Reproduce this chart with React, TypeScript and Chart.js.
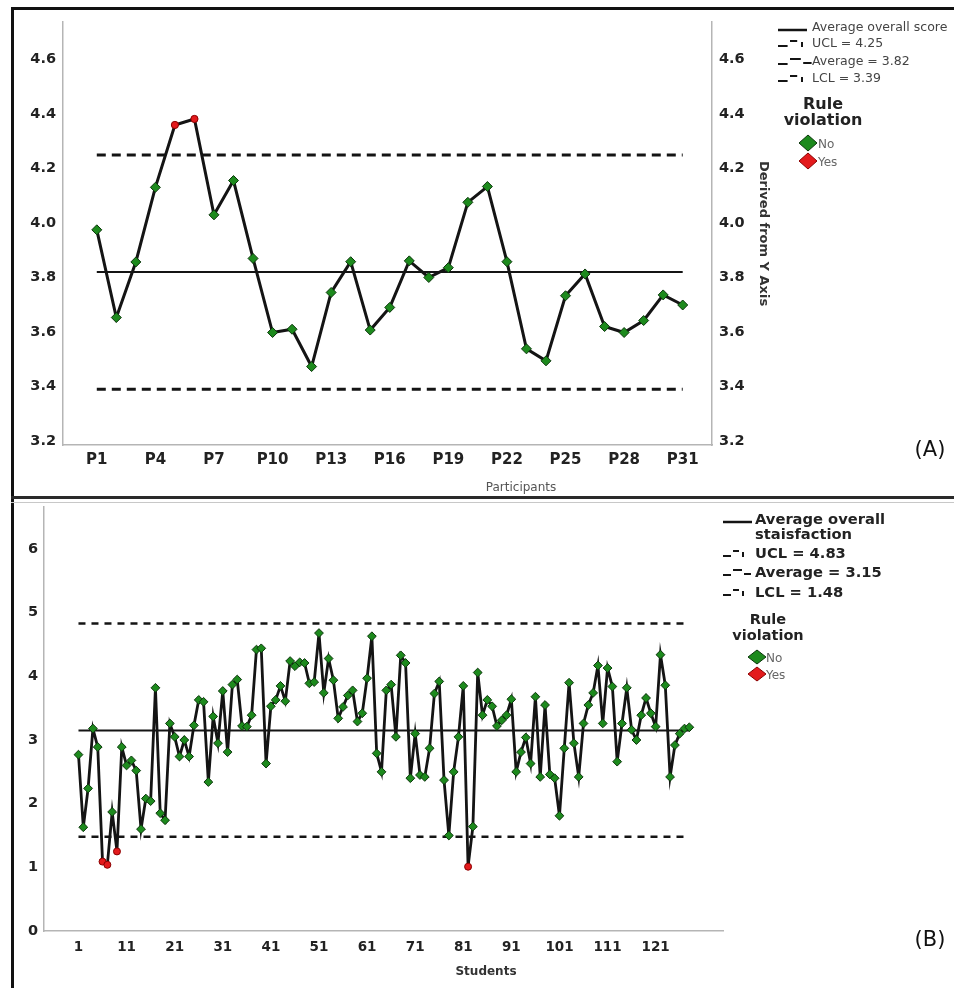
import React, { useEffect, useRef } from "react";
import { Chart, registerables } from "chart.js";

Chart.register(...registerables);

const FONT = "'DejaVu Sans', 'Liberation Sans', Arial, sans-serif";

// ---------------- Panel A data ----------------
const participantScores = [
  3.975, 3.653, 3.857, 4.131, 4.36, 4.382, 4.03, 4.156, 3.87, 3.598,
  3.61, 3.473, 3.745, 3.858, 3.607, 3.69, 3.861, 3.8, 3.836, 4.076,
  4.134, 3.858, 3.538, 3.494, 3.733, 3.813, 3.62, 3.598, 3.642, 3.736,
  3.699,
];
const participantTickValues = [1, 4, 7, 10, 13, 16, 19, 22, 25, 28, 31];
const participantYTicks = [3.2, 3.4, 3.6, 3.8, 4.0, 4.2, 4.4, 4.6];
const participantUCL = 4.25;
const participantAverage = 3.82;
const participantLCL = 3.39;

// ---------------- Panel B data ----------------
const studentScores = [
  2.77, 1.63, 2.24, 3.18, 2.89, 1.09, 1.04, 1.87, 1.25, 2.89,
  2.6, 2.68, 2.52, 1.6, 2.08, 2.04, 3.82, 1.85, 1.74, 3.26,
  3.05, 2.74, 3.0, 2.74, 3.23, 3.63, 3.6, 2.34, 3.37, 2.95,
  3.77, 2.81, 3.87, 3.95, 3.22, 3.21, 3.39, 4.42, 4.44, 2.63,
  3.53, 3.63, 3.85, 3.61, 4.24, 4.16, 4.22, 4.21, 3.89, 3.91,
  4.68, 3.74, 4.28, 3.94, 3.34, 3.52, 3.7, 3.78, 3.29, 3.42,
  3.97, 4.63, 2.79, 2.5, 3.78, 3.87, 3.05, 4.33, 4.21, 2.4,
  3.1, 2.45, 2.42, 2.87, 3.73, 3.92, 2.37, 1.5, 2.5, 3.05,
  3.85, 1.01, 1.64, 4.06, 3.39, 3.63, 3.53, 3.22, 3.31, 3.39,
  3.64, 2.5, 2.81, 3.04, 2.63, 3.68, 2.42, 3.55, 2.46, 2.4,
  1.81, 2.87, 3.9, 2.95, 2.42, 3.26, 3.55, 3.74, 4.17, 3.26,
  4.13, 3.84, 2.66, 3.26, 3.82, 3.16, 3.0, 3.39, 3.66, 3.42,
  3.21, 4.34, 3.86, 2.42, 2.92, 3.1, 3.18, 3.2,
];
const studentTickValues = [1, 11, 21, 31, 41, 51, 61, 71, 81, 91, 101, 111, 121];
const studentYTicks = [0, 1, 2, 3, 4, 5, 6];
const studentUCL = 4.83;
const studentAverage = 3.15;
const studentLCL = 1.48;

// ---------------- styling helpers ----------------
const GREEN = "#1d8a1d";
const GREEN_EDGE = "#0b360b";
const RED = "#e31a1c";
const RED_EDGE = "#8a0000";
const INK = "#141414";

function pointProps(values: number[], ucl: number, lcl: number, rD: number, rC: number) {
  const viol = values.map((v) => v > ucl || v < lcl);
  return {
    pointStyle: viol.map((b) => (b ? "circle" : "rectRot")),
    pointRadius: viol.map((b) => (b ? rC : rD)),
    pointHoverRadius: viol.map((b) => (b ? rC : rD)),
    pointBackgroundColor: viol.map((b) => (b ? RED : GREEN)),
    pointBorderColor: viol.map((b) => (b ? RED_EDGE : GREEN_EDGE)),
    pointBorderWidth: 1,
  };
}

function hLine(y: number, x0: number, x1: number, dash: number[], width: number) {
  return {
    data: [
      { x: x0, y },
      { x: x1, y },
    ],
    borderColor: INK,
    borderWidth: width,
    borderDash: dash,
    pointRadius: 0,
    pointHoverRadius: 0,
    fill: false,
  };
}

function drawDiamond(ctx: CanvasRenderingContext2D, cx: number, cy: number, hw: number, hh: number, fill: string, edge: string) {
  ctx.beginPath();
  ctx.moveTo(cx - hw, cy);
  ctx.lineTo(cx, cy - hh);
  ctx.lineTo(cx + hw, cy);
  ctx.lineTo(cx, cy + hh);
  ctx.closePath();
  ctx.fillStyle = fill;
  ctx.fill();
  ctx.lineWidth = 1;
  ctx.strokeStyle = edge;
  ctx.stroke();
}

function drawLimitMarker(ctx: CanvasRenderingContext2D, x0: number, y: number, s: number, avg: boolean) {
  ctx.save();
  ctx.strokeStyle = INK;
  ctx.lineWidth = 2;
  ctx.lineCap = "butt";
  ctx.beginPath();
  ctx.moveTo(x0, y + 2);
  ctx.lineTo(x0 + 8 * s, y + 2);
  ctx.moveTo(x0 + 10 * s, y - 3);
  ctx.lineTo(x0 + (avg ? 19 : 16) * s, y - 3);
  if (avg) {
    ctx.moveTo(x0 + 21 * s, y + 1);
    ctx.lineTo(x0 + 28 * s, y + 1);
  } else {
    ctx.moveTo(x0 + 20 * s, y - 2);
    ctx.lineTo(x0 + 20 * s, y + 3);
  }
  ctx.stroke();
  ctx.restore();
}

type Entry = { text: string[]; y: number[]; kind: "solid" | "limit" | "avg" };
type LegendSpec = {
  x0: number;
  markerScale: number;
  textX: number;
  entries: Entry[];
  entryFont: string;
  entryColor: string;
  ruleX: number;
  ruleY: number[];
  ruleFont: string;
  diamondX: number;
  diamondY: number[];
  dhw: number;
  dhh: number;
  ynFont: string;
  ynX: number;
  panelLabel: string;
  panelX: number;
  panelY: number;
  axisTitle: string;
  axisTitleFont: string;
  axisTitleColor: string;
  axisTitleX: number;
  axisTitleY: number;
};

function makeLegendPlugin(id: string, spec: LegendSpec) {
  return {
    id,
    afterDraw(chart: any) {
      const ctx: CanvasRenderingContext2D = chart.ctx;
      ctx.save();
      ctx.textBaseline = "middle";
      spec.entries.forEach((e) => {
        const my = e.y[0];
        if (e.kind === "solid") {
          ctx.strokeStyle = INK;
          ctx.lineWidth = 2.5;
          ctx.beginPath();
          ctx.moveTo(spec.x0, my + 2);
          ctx.lineTo(spec.x0 + 29, my + 2);
          ctx.stroke();
        } else {
          drawLimitMarker(ctx, spec.x0, my, spec.markerScale, e.kind === "avg");
        }
        ctx.font = spec.entryFont;
        ctx.fillStyle = spec.entryColor;
        ctx.textAlign = "left";
        e.text.forEach((t, i) => ctx.fillText(t, spec.textX, e.y[i]));
      });
      ctx.font = spec.ruleFont;
      ctx.fillStyle = "#222";
      ctx.textAlign = "center";
      ctx.fillText("Rule", spec.ruleX, spec.ruleY[0]);
      ctx.fillText("violation", spec.ruleX, spec.ruleY[1]);
      drawDiamond(ctx, spec.diamondX, spec.diamondY[0], spec.dhw, spec.dhh, GREEN, GREEN_EDGE);
      drawDiamond(ctx, spec.diamondX, spec.diamondY[1], spec.dhw, spec.dhh, RED, RED_EDGE);
      ctx.font = spec.ynFont;
      ctx.fillStyle = "#666";
      ctx.textAlign = "left";
      ctx.fillText("No", spec.ynX, spec.diamondY[0] + 2);
      ctx.fillText("Yes", spec.ynX, spec.diamondY[1] + 2);
      ctx.font = `21px ${FONT}`;
      ctx.fillStyle = "#111";
      ctx.textAlign = "center";
      ctx.fillText(spec.panelLabel, spec.panelX, spec.panelY);
      ctx.font = spec.axisTitleFont;
      ctx.fillStyle = spec.axisTitleColor;
      ctx.fillText(spec.axisTitle, spec.axisTitleX, spec.axisTitleY);
      ctx.restore();
    },
  };
}

function buildChartA(canvas: HTMLCanvasElement) {
  const pts = participantScores.map((v, i) => ({ x: i + 1, y: v }));
  const n = participantScores.length;
  const tickFont = { family: FONT, size: 14.5, weight: "bold" as const };
  const yCommon = {
    type: "linear" as const,
    min: 3.185,
    max: 4.738,
    grid: { display: false, drawTicks: false },
    border: { display: true, color: "#b5b5b5", width: 1.5 },
    afterBuildTicks: (s: any) => {
      s.ticks = participantYTicks.map((v) => ({ value: v }));
    },
  };
  return new Chart(canvas, {
    type: "line",
    data: {
      datasets: [
        {
          data: pts,
          borderColor: INK,
          borderWidth: 3,
          tension: 0,
          fill: false,
          ...pointProps(participantScores, participantUCL, participantLCL, 5, 3.6),
        } as any,
        hLine(participantAverage, 1, n, [], 2),
        hLine(participantUCL, 1, n, [9, 6], 3),
        hLine(participantLCL, 1, n, [9, 6], 3),
      ],
    },
    options: {
      responsive: false,
      animation: false,
      devicePixelRatio: 1,
      layout: { padding: { top: 22, right: 180, bottom: 0, left: 0 } },
      plugins: { legend: { display: false }, tooltip: { enabled: false } },
      scales: {
        x: {
          type: "linear",
          min: -0.73,
          max: 32.5,
          grid: { display: false, drawTicks: false },
          border: { display: true, color: "#b5b5b5", width: 1.5 },
          afterBuildTicks: (s: any) => {
            s.ticks = participantTickValues.map((v) => ({ value: v }));
          },
          afterFit: (s: any) => {
            s.height = 55;
            s.paddingLeft = 0;
            s.paddingRight = 0;
          },
          ticks: {
            autoSkip: false,
            maxRotation: 0,
            padding: 6,
            color: "#222",
            font: { family: FONT, size: 15, weight: "bold" },
            callback: (v: any) => `P${v}`,
          },
        },
        y: {
          ...yCommon,
          position: "left",
          afterFit: (s: any) => {
            s.width = 63;
            s.paddingTop = 0;
            s.paddingBottom = 0;
          },
          ticks: { padding: 7, color: "#222", font: tickFont, callback: (v: any) => Number(v).toFixed(1) },
        },
        y2: {
          ...yCommon,
          position: "right",
          afterFit: (s: any) => {
            s.width = 62;
            s.paddingTop = 0;
            s.paddingBottom = 0;
          },
          ticks: { padding: 7, color: "#222", font: tickFont, callback: (v: any) => Number(v).toFixed(1) },
          title: {
            display: true,
            text: "Derived from Y Axis",
            color: "#333",
            font: { family: FONT, size: 13, weight: "bold" },
            padding: { top: 3, bottom: 0 },
          },
        },
      },
    } as any,
    plugins: [
      makeLegendPlugin("legendA", {
        x0: 778,
        markerScale: 1.2,
        textX: 812,
        entries: [
          { text: ["Average overall score"], y: [28], kind: "solid" },
          { text: [`UCL = ${participantUCL.toFixed(2)}`], y: [44], kind: "limit" },
          { text: [`Average = ${participantAverage.toFixed(2)}`], y: [62], kind: "avg" },
          { text: [`LCL = ${participantLCL.toFixed(2)}`], y: [79], kind: "limit" },
        ],
        entryFont: `12.5px ${FONT}`,
        entryColor: "#444",
        ruleX: 823,
        ruleY: [105, 121],
        ruleFont: `bold 16px ${FONT}`,
        diamondX: 808,
        diamondY: [143, 161],
        dhw: 9,
        dhh: 8,
        ynFont: `12px ${FONT}`,
        ynX: 818,
        panelLabel: "(A)",
        panelX: 930,
        panelY: 451,
        axisTitle: "Participants",
        axisTitleFont: `12px ${FONT}`,
        axisTitleColor: "#555",
        axisTitleX: 521,
        axisTitleY: 488,
      }),
    ],
  });
}

function buildChartB(canvas: HTMLCanvasElement) {
  const pts = studentScores.map((v, i) => ({ x: i + 1, y: v }));
  const n = studentScores.length;
  const Y = -500; // canvas B is offset 500px down the page
  return new Chart(canvas, {
    type: "line",
    data: {
      datasets: [
        {
          data: pts,
          borderColor: INK,
          borderWidth: 2.8,
          tension: 0,
          fill: false,
          ...pointProps(studentScores, studentUCL, studentLCL, 4.4, 3.5),
        } as any,
        hLine(studentAverage, 1, n, [], 2),
        hLine(studentUCL, 1, n, [7, 6], 2.5),
        hLine(studentLCL, 1, n, [7, 6], 2.5),
      ],
    },
    options: {
      responsive: false,
      animation: false,
      devicePixelRatio: 1,
      layout: { padding: { top: 7, right: 231, bottom: 0, left: 0 } },
      plugins: { legend: { display: false }, tooltip: { enabled: false } },
      scales: {
        x: {
          type: "linear",
          min: -6.17,
          max: 135.0,
          grid: { display: false, drawTicks: false },
          border: { display: true, color: "#b5b5b5", width: 1.5 },
          afterBuildTicks: (s: any) => {
            s.ticks = studentTickValues.map((v) => ({ value: v }));
          },
          afterFit: (s: any) => {
            s.height = 57;
            s.paddingLeft = 0;
            s.paddingRight = 0;
          },
          ticks: {
            autoSkip: false,
            maxRotation: 0,
            padding: 8,
            color: "#222",
            font: { family: FONT, size: 13.5, weight: "bold" },
            callback: (v: any) => `${v}`,
          },
        },
        y: {
          type: "linear",
          position: "left",
          min: 0,
          max: 6.66,
          grid: { display: false, drawTicks: false },
          border: { display: true, color: "#b5b5b5", width: 1.5 },
          afterBuildTicks: (s: any) => {
            s.ticks = studentYTicks.map((v) => ({ value: v }));
          },
          afterFit: (s: any) => {
            s.width = 44;
            s.paddingTop = 0;
            s.paddingBottom = 0;
          },
          ticks: { padding: 6, color: "#222", font: { family: FONT, size: 14.5, weight: "bold" }, callback: (v: any) => `${v}` },
        },
      },
    } as any,
    plugins: [
      makeLegendPlugin("legendB", {
        x0: 723,
        markerScale: 1,
        textX: 755,
        entries: [
          { text: ["Average overall", "staisfaction"], y: [520 + Y, 535 + Y], kind: "solid" },
          { text: [`UCL = ${studentUCL.toFixed(2)}`], y: [554 + Y], kind: "limit" },
          { text: [`Average = ${studentAverage.toFixed(2)}`], y: [573 + Y], kind: "avg" },
          { text: [`LCL = ${studentLCL.toFixed(2)}`], y: [593 + Y], kind: "limit" },
        ],
        entryFont: `bold 14.7px ${FONT}`,
        entryColor: "#222",
        ruleX: 768,
        ruleY: [620 + Y, 636 + Y],
        ruleFont: `bold 14.5px ${FONT}`,
        diamondX: 757,
        diamondY: [657 + Y, 674 + Y],
        dhw: 9,
        dhh: 7,
        ynFont: `12px ${FONT}`,
        ynX: 766,
        panelLabel: "(B)",
        panelX: 930,
        panelY: 941 + Y,
        axisTitle: "Students",
        axisTitleFont: `bold 12px ${FONT}`,
        axisTitleColor: "#333",
        axisTitleX: 486,
        axisTitleY: 972 + Y,
      }),
    ],
  });
}

export default function App() {
  const refA = useRef<HTMLCanvasElement | null>(null);
  const refB = useRef<HTMLCanvasElement | null>(null);

  useEffect(() => {
    document.body.style.margin = "0";
    const a = refA.current ? buildChartA(refA.current) : null;
    const b = refB.current ? buildChartB(refB.current) : null;
    return () => {
      a?.destroy();
      b?.destroy();
    };
  }, []);

  const line = (l: number, t: number, w: number, h: number, c: string) => (
    <div style={{ position: "absolute", left: l, top: t, width: w, height: h, background: c, zIndex: 2 }} />
  );

  return (
    <div style={{ position: "relative", width: 954, height: 988, background: "#fff", overflow: "hidden" }}>
      <canvas ref={refA} width={954} height={500} style={{ position: "absolute", left: 0, top: 0, width: 954, height: 500 }} />
      <canvas ref={refB} width={954} height={488} style={{ position: "absolute", left: 0, top: 500, width: 954, height: 488 }} />
      {line(11, 7, 943, 3, "#111")}
      {line(11, 7, 3, 981, "#111")}
      {line(11, 496, 943, 3, "#2a2a2a")}
      {line(11, 502, 943, 1, "#c8c8c8")}
    </div>
  );
}
